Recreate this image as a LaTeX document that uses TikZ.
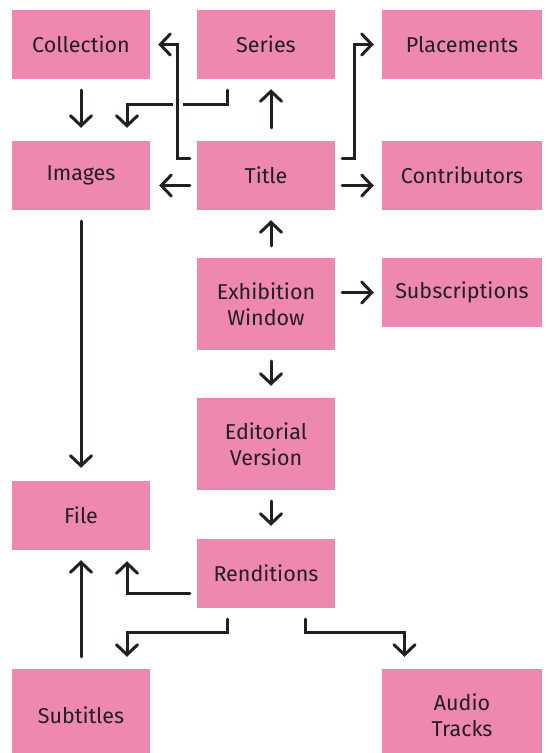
\documentclass[tikz,border=0pt]{standalone}
\usepackage{fontspec}
\setmainfont{Fira Sans}
\usetikzlibrary{arrows.meta,calc}
\definecolor{boxpink}{RGB}{238,136,177}
\definecolor{ink}{RGB}{35,31,32}
\tikzset{
  box/.style={rectangle, fill=boxpink, draw=none, minimum width=138pt, minimum height=69pt,
    inner sep=0pt, align=center, text=ink, font=\fontsize{21.5}{25.5}\selectfont},
  widebox/.style={box, minimum width=160pt},
  tallbox/.style={minimum height=92pt},
  arr/.style={draw=ink, line width=3pt, line cap=round, line join=miter,
    -{Straight Barb[length=10pt,width=21pt,line cap=round]}},
  halo/.style={preaction={draw=white, line width=10pt, arrows=-}}
}
\begin{document}
\begin{tikzpicture}[x=1pt,y=-1pt]
\clip (0,0) rectangle (547,753);
\useasboundingbox (0,0) rectangle (547,753);
\fill[white] (0,0) rectangle (547,753);

\node[box] (collection) at (81,44.5) {Collection};
\node[box] (series) at (266,44.5) {Series};
\node[widebox] (placements) at (462,44.5) {Placements};
\node[box] (images) at (81,175.5) {Images};
\node[box] (title) at (266,175.5) {Title};
\node[widebox] (contributors) at (462,175.5) {Contributors};
\node[box,tallbox] (exhibition) at (266,304) {Exhibition\\Window};
\node[widebox] (subscriptions) at (462,292.5) {Subscriptions};
\node[box,tallbox] (editorial) at (266,444) {Editorial\\Version};
\node[box] (file) at (81,515.5) {File};
\node[box] (renditions) at (266,573.5) {Renditions};
\node[box,tallbox] (subtitles) at (81,715) {Subtitles};
\node[widebox,tallbox] (audio) at (462,715) {Audio\\Tracks};

% Collection -> Images
\draw[arr] ($(collection.south)+(0,11)$) -- ($(images.north)+(0,-13)$);
% Series -> Images
\draw[arr] ($(series.south)+(-39,11)$) -- ++(0,14) -| ($(images.north)+(46,-13)$);
% Title -> Collection (bridges over the line above)
\draw[arr,halo] ($(title.west)+(-7,-17)$) -- ++(-12,0) |- ($(collection.east)+(8,0)$);
% Title -> Series
\draw[arr] ($(title.north)+(5,-13)$) -- ($(series.south)+(5,10)$);
% Title -> Placements
\draw[arr] ($(title.east)+(7,-17)$) -- ++(12,0) |- ($(placements.west)+(-8,0)$);
% Title -> Images
\draw[arr] ($(title.west)+(-7,10)$) -- ($(images.east)+(9,10)$);
% Title -> Contributors
\draw[arr] ($(title.east)+(7,10)$) -- ($(contributors.west)+(-8,10)$);
% Images -> File
\draw[arr] ($(images.south)+(0,11)$) -- ($(file.north)+(0,-13)$);
% Exhibition -> Title
\draw[arr] ($(exhibition.north)+(5,-12)$) -- ($(title.south)+(5,10)$);
% Exhibition -> Subscriptions
\draw[arr] ($(exhibition.east |- subscriptions.west)+(7,0)$) -- ($(subscriptions.west)+(-8,0)$);
% Exhibition -> Editorial
\draw[arr] ($(exhibition.south)+(5,11)$) -- ($(editorial.north)+(5,-12)$);
% Editorial -> Renditions
\draw[arr] ($(editorial.south)+(5,11)$) -- ($(renditions.north)+(5,-13)$);
% Renditions -> File
\draw[arr] ($(renditions.west)+(-7,20)$) -| ($(file.south)+(46,11)$);
% Subtitles -> File
\draw[arr] ($(subtitles.north)+(0,-12)$) -- ($(file.south)+(0,10)$);
% Renditions -> Subtitles
\draw[arr] ($(renditions.south)+(-39,11)$) -- ++(0,13) -| ($(subtitles.north)+(46,-12)$);
% Renditions -> Audio Tracks
\draw[arr] ($(renditions.south)+(39,11)$) -- ++(0,13) -| ($(audio.north)+(-57.5,-12)$);
\end{tikzpicture}
\end{document}
